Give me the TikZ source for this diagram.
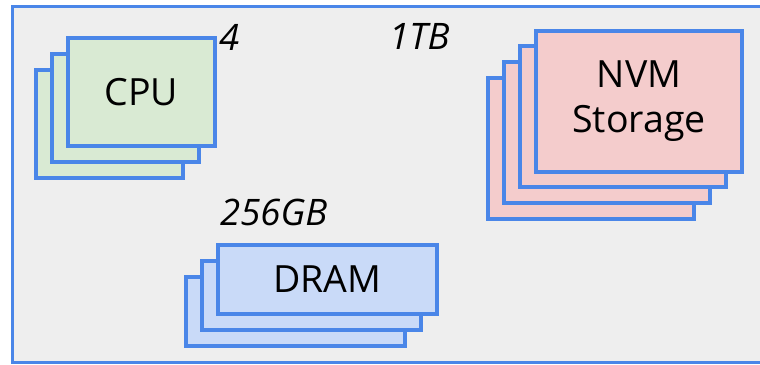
\documentclass[tikz,border=0pt]{standalone}
\usepackage{fontspec}
\setmainfont{Open Sans}
\definecolor{frameblue}{HTML}{4A86E8}
\definecolor{panelgray}{HTML}{EEEEEE}
\definecolor{cpugreen}{HTML}{D9EAD3}
\definecolor{nvmpink}{HTML}{F4CCCC}
\definecolor{drampale}{HTML}{C9DAF8}
\tikzset{
  layer/.style={draw=frameblue, line width=4pt, rectangle, inner sep=0pt, outer sep=0pt,
    font=\fontsize{37.5}{45}\selectfont, align=center, text=black},
  cpulayer/.style={layer, fill=cpugreen, minimum width=147pt, minimum height=108pt},
  nvmlayer/.style={layer, fill=nvmpink, minimum width=206pt, minimum height=141pt},
  dramlayer/.style={layer, fill=drampale, minimum width=219pt, minimum height=69pt},
  countlabel/.style={anchor=base west, inner sep=0pt, font=\fontsize{36.5}{43}\selectfont\itshape}
}
\begin{document}
\begin{tikzpicture}[x=1pt, y=-1pt]
  \clip (0,0) rectangle (760,364);
  % outer panel, running off the right edge
  \draw[frameblue, fill=panelgray, line width=3pt] (12.5,6.5) rectangle (780,362.5);

  % CPU stack
  \node[cpulayer] (cpu3) at (109.5,124) {};
  \node[cpulayer] (cpu2) at (125.5,108) {};
  \node[cpulayer] (cpu1) at (141.5,92) {CPU};
  \node[countlabel] (cpucount) at (219,50) {4};

  % NVM storage stack
  \node[nvmlayer] (nvm4) at (591,148.5) {};
  \node[nvmlayer] (nvm3) at (607,132.5) {};
  \node[nvmlayer] (nvm2) at (623,116.5) {};
  \node[nvmlayer] (nvm1) at (639,101.5) {NVM\\Storage};
  \node[countlabel] (nvmcount) at (389,49) {1TB};

  % DRAM stack
  \node[dramlayer] (dram3) at (295.5,311.5) {};
  \node[dramlayer] (dram2) at (311.5,295.5) {};
  \node[dramlayer] (dram1) at (327.5,279.5) {DRAM};
  \node[countlabel] (dramcount) at (220,225) {256GB};
\end{tikzpicture}
\end{document}
